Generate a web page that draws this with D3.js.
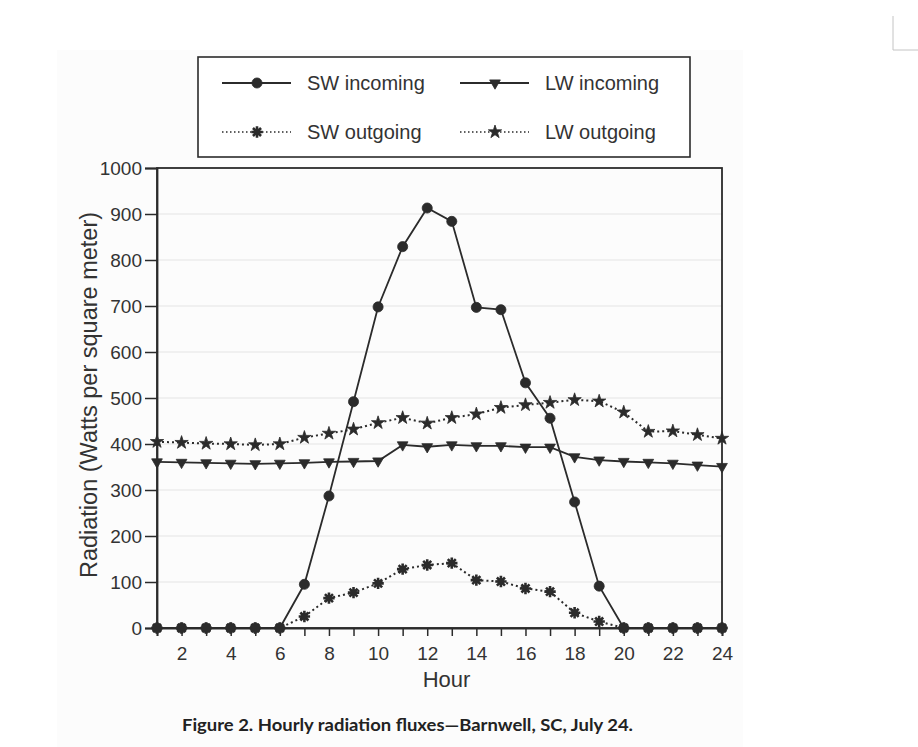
<!DOCTYPE html>
<html>
<head>
<meta charset="utf-8">
<script src="https://cdn.jsdelivr.net/npm/d3@7"></script>
<style>
  html, body { margin: 0; padding: 0; background: #ffffff; }
  svg { display: block; }
</style>
</head>
<body>
<script>
// ---- DATA ----
const hours = [1,2,3,4,5,6,7,8,9,10,11,12,13,14,15,16,17,18,19,20,21,22,23,24];
const swIncoming  = [0,0,0,0,0,0,95,287,492,698,829,913,884,697,692,533,456,274,91,0,0,0,0,0];
const lwIncoming  = [361,360,359,358,357,358,359,361,362,363,398,394,398,396,396,393,393,372,365,362,360,358,354,351];
const swOutgoing  = [0,0,0,0,0,0,25,65,77,97,128,137,141,104,101,86,79,33,14,0,0,0,0,0];
const lwOutgoing  = [405,403,401,400,398,400,414,423,432,446,457,445,457,465,479,485,490,496,493,469,427,428,420,412];
const yTickValues = [0,100,200,300,400,500,600,700,800,900,1000];
const xLabelHours = [2,4,6,8,10,12,14,16,18,20,22,24];
const seriesNames = ["SW incoming","LW incoming","SW outgoing","LW outgoing"];
const yTitle = "Radiation (Watts per square meter)";
const xTitle = "Hour";
const caption = "Figure 2.  Hourly radiation fluxes\u2014Barnwell, SC, July 24.";

// ---- LAYOUT ----
const W = 918, H = 747;
const ink = "#2b2b2b";
const svg = d3.select("body").append("svg").attr("width", W).attr("height", H);

// scanned page tone
svg.append("rect").attr("x", 57).attr("y", 50).attr("width", 686).attr("height", 697).attr("fill", "#fcfcfc");
// crop mark at top right
svg.append("path").attr("d", "M893,16V50H918").attr("fill", "none").attr("stroke", "#c4c4c4").attr("stroke-width", 1);

const x = d3.scaleLinear().domain([1, 24]).range([157, 722]);
const y = d3.scaleLinear().domain([0, 1000]).range([628, 168]);

// gridlines
svg.append("g").selectAll("line").data(yTickValues.filter(v => v > 0 && v < 1000)).join("line")
  .attr("x1", x(1)).attr("x2", x(24)).attr("y1", d => y(d)).attr("y2", d => y(d))
  .attr("stroke", "#e4e4e4").attr("stroke-width", 1);

// frame
svg.append("rect").attr("x", x(1)).attr("y", y(1000)).attr("width", x(24) - x(1)).attr("height", y(0) - y(1000))
  .attr("fill", "none").attr("stroke", ink).attr("stroke-width", 1.8);

// axes
const yAxis = svg.append("g").attr("transform", `translate(${x(1)},0)`)
  .call(d3.axisLeft(y).tickValues(yTickValues).tickSize(12).tickPadding(3).tickFormat(d3.format("d")));
const xAxis = svg.append("g").attr("transform", `translate(0,${y(0)})`)
  .call(d3.axisBottom(x).tickValues(hours).tickSize(8).tickPadding(11)
    .tickFormat(d => xLabelHours.includes(d) ? d : ""));
[yAxis, xAxis].forEach(g => {
  g.selectAll("path.domain").attr("stroke", ink).attr("stroke-width", 1.8);
  g.selectAll(".tick line").attr("stroke", ink).attr("stroke-width", 1.5);
  g.selectAll(".tick text").attr("fill", "#333").attr("font-family", "Liberation Sans, Arial, sans-serif").attr("font-size", 19);
});

// axis titles
svg.append("text").attr("transform", "translate(97,395) rotate(-90)")
  .attr("text-anchor", "middle").attr("font-family", "Liberation Sans, Arial, sans-serif")
  .attr("font-size", 23.5).attr("fill", "#333").text(yTitle);
svg.append("text").attr("x", 446.5).attr("y", 687)
  .attr("text-anchor", "middle").attr("font-family", "Liberation Sans, Arial, sans-serif")
  .attr("font-size", 22).attr("fill", "#333").text(xTitle);

// caption
svg.append("text").attr("x", 182).attr("y", 731)
  .attr("font-family", "Lato, Open Sans, sans-serif").attr("font-weight", "bold")
  .attr("font-size", 17).attr("fill", "#222")
  .attr("textLength", 451).attr("lengthAdjust", "spacingAndGlyphs")
  .text(caption);

// symbols
const asterisk8 = {
  draw(ctx, size) {
    const r = Math.sqrt(size) / 2;
    for (let i = 0; i < 4; i++) {
      const a = i * Math.PI / 4;
      ctx.moveTo(-r * Math.cos(a), -r * Math.sin(a));
      ctx.lineTo(r * Math.cos(a), r * Math.sin(a));
    }
  }
};
const series = [
  { name: seriesNames[0], values: swIncoming, dash: null,  type: d3.symbolCircle,   size: 80, rot: 0,   fill: true },
  { name: seriesNames[1], values: lwIncoming, dash: null,  type: d3.symbolTriangle, size: 50, rot: 180, fill: true },
  { name: seriesNames[2], values: swOutgoing, dash: "2,3", type: asterisk8,         size: 130, rot: 0,  fill: false },
  { name: seriesNames[3], values: lwOutgoing, dash: "2,3", type: d3.symbolStar,     size: 55, rot: 0,   fill: true }
];

const line = d3.line().x((d, i) => x(hours[i])).y(d => y(d));

function drawMarker(g, s, cx, cy) {
  const p = g.append("path")
    .attr("d", d3.symbol().type(s.type).size(s.size)())
    .attr("transform", `translate(${cx},${cy}) rotate(${s.rot})`);
  if (s.fill) p.attr("fill", ink).attr("stroke", ink).attr("stroke-width", 0.8);
  else p.attr("fill", "none").attr("stroke", ink).attr("stroke-width", 2.6);
}

const plot = svg.append("g");
series.forEach(s => {
  plot.append("path").datum(s.values).attr("d", line)
    .attr("fill", "none").attr("stroke", ink)
    .attr("stroke-width", s.dash ? 2 : 1.8)
    .attr("stroke-dasharray", s.dash);
});
// draw markers (outgoing first then incoming on top)
[series[3], series[2], series[1], series[0]].forEach(s => {
  const g = plot.append("g");
  s.values.forEach((v, i) => drawMarker(g, s, x(hours[i]), y(v)));
});

// legend
const leg = svg.append("g");
leg.append("rect").attr("x", 198).attr("y", 57).attr("width", 492).attr("height", 100)
  .attr("fill", "#fff").attr("stroke", ink).attr("stroke-width", 1.6);
const legPos = [
  { lx: 222, ly: 83 }, { lx: 460, ly: 83 },
  { lx: 222, ly: 132 }, { lx: 460, ly: 132 }
];
series.forEach((s, i) => {
  const p = legPos[i];
  leg.append("line").attr("x1", p.lx).attr("x2", p.lx + 69).attr("y1", p.ly).attr("y2", p.ly)
    .attr("stroke", ink).attr("stroke-width", s.dash ? 1.6 : 1.8).attr("stroke-dasharray", s.dash ? "1.5,2.5" : null);
  drawMarker(leg, s, p.lx + 35, p.ly);
  leg.append("text").attr("x", p.lx + 85).attr("y", p.ly + 7)
    .attr("font-family", "Liberation Sans, Arial, sans-serif").attr("font-size", 20)
    .attr("fill", "#333").text(s.name);
});
</script>
</body>
</html>
